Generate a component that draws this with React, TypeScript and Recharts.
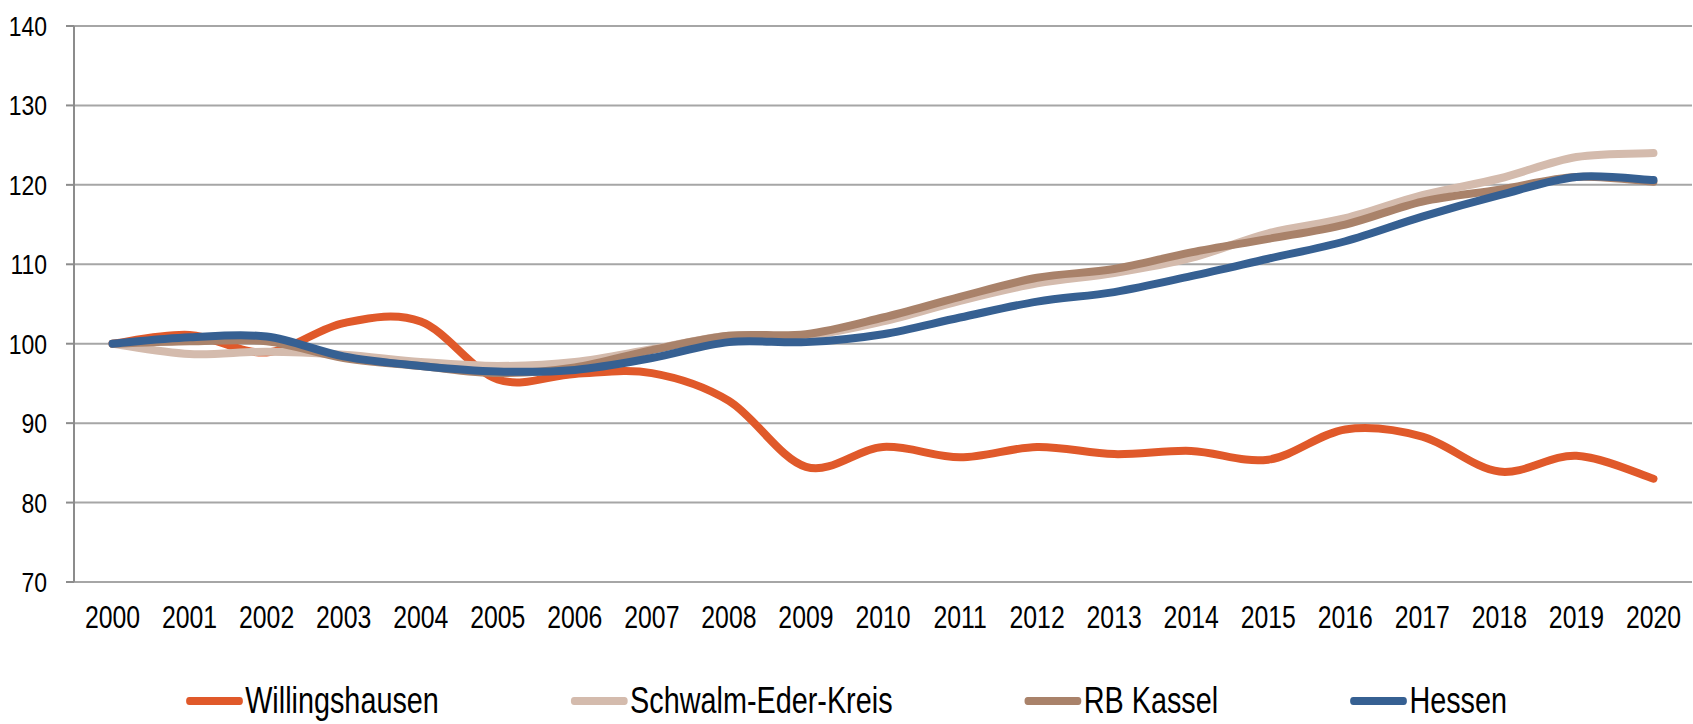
import { CartesianGrid, Line, LineChart, XAxis, YAxis } from "recharts";

const years = [
  2000, 2001, 2002, 2003, 2004, 2005, 2006, 2007, 2008, 2009, 2010, 2011, 2012,
  2013, 2014, 2015, 2016, 2017, 2018, 2019, 2020,
];

const willingshausen = [
  100, 101.1, 98.9, 102.6, 102.8, 95.5, 96.2, 96.3, 92.8, 84.5, 87.0, 85.7,
  87.0, 86.1, 86.5, 85.4, 89.2, 88.3, 83.9, 85.9, 83.0,
];
const schwalmEder = [
  100, 98.7, 99.0, 98.6, 97.7, 97.2, 97.7, 99.3, 101.0, 101.0, 102.8, 105.4,
  107.6, 108.9, 110.8, 113.9, 115.8, 118.7, 120.8, 123.5, 124.0,
];
const rbKassel = [
  100, 100.3, 100.3, 98.2, 97.2, 96.3, 97.0, 99.2, 101.0, 101.2, 103.3, 105.9,
  108.3, 109.4, 111.5, 113.2, 115.0, 117.9, 119.4, 121.0, 120.4,
];
const hessen = [
  100, 100.8, 100.9, 98.4, 97.2, 96.5, 96.7, 98.2, 100.2, 100.2, 101.2, 103.3,
  105.3, 106.5, 108.5, 110.7, 112.9, 116.0, 118.7, 121.0, 120.6,
];

const yTicks = [70, 80, 90, 100, 110, 120, 130, 140];

const seriesNames = ["Willingshausen", "Schwalm-Eder-Kreis", "RB Kassel", "Hessen"];
const seriesColors = ["#E0592A", "#D4BBAD", "#A9826A", "#366092"];
const seriesKeys = ["w", "s", "r", "h"];

const data = years.map((year, i) => ({
  year,
  w: willingshausen[i],
  s: schwalmEder[i],
  r: rbKassel[i],
  h: hessen[i],
}));

// tick marks sit between the years, like the spreadsheet axis
const boundaryTicks = [...years.map((y) => y - 0.5), years[years.length - 1] + 0.5];

const FONT = '"Liberation Sans", Arial, sans-serif';
const AXIS = "#8c8c8c";
// no narrow font installed, so squeeze the regular one
const NARROW = 0.8;

// Excel-style smoothing (Catmull-Rom through every point)
function excelSmooth(ctx: any) {
  let pts: number[][] = [];
  return {
    areaStart() {},
    areaEnd() {},
    lineStart() {
      pts = [];
    },
    point(x: number, y: number) {
      pts.push([+x, +y]);
    },
    lineEnd() {
      if (!pts.length) return;
      ctx.moveTo(pts[0][0], pts[0][1]);
      for (let i = 0; i < pts.length - 1; i++) {
        const p0 = pts[i - 1] || pts[i];
        const p1 = pts[i];
        const p2 = pts[i + 1];
        const p3 = pts[i + 2] || p2;
        ctx.bezierCurveTo(
          p1[0] + (p2[0] - p0[0]) / 6,
          p1[1] + (p2[1] - p0[1]) / 6,
          p2[0] - (p3[0] - p1[0]) / 6,
          p2[1] - (p3[1] - p1[1]) / 6,
          p2[0],
          p2[1]
        );
      }
    },
  };
}

function YearTick({ x, y, payload }: any) {
  return (
    <text
      transform={`translate(${x},${y}) scale(${NARROW},1)`}
      textAnchor="middle"
      dy="0.71em"
      fill="#000"
      fontSize={31}
      fontFamily={FONT}
    >
      {payload.value}
    </text>
  );
}

function ValueTick({ x, y, payload }: any) {
  return (
    <text
      transform={`translate(${x},${y}) scale(0.82,1)`}
      textAnchor="end"
      dy="0.355em"
      fill="#000"
      fontSize={28}
      fontFamily={FONT}
    >
      {payload.value}
    </text>
  );
}

function ChartLegend() {
  return (
    <div
      style={{
        position: "absolute",
        top: 683,
        left: 0,
        width: 1693,
        display: "flex",
        justifyContent: "center",
        gap: 165,
        fontFamily: FONT,
        fontSize: 36,
        lineHeight: "36px",
        color: "#000",
        transform: `scaleX(${NARROW})`,
        transformOrigin: "50% 50%",
      }}
    >
      {seriesNames.map((name, i) => (
        <div key={name} style={{ display: "flex", alignItems: "center" }}>
          <span
            style={{
              display: "inline-block",
              width: 71,
              height: 8,
              borderRadius: 4,
              background: seriesColors[i],
              marginRight: 3,
            }}
          />
          <span style={{ whiteSpace: "nowrap" }}>{name}</span>
        </div>
      ))}
    </div>
  );
}

export default function App() {
  return (
    <div
      style={{
        position: "absolute",
        left: 0,
        top: 0,
        width: 1693,
        height: 724,
        background: "#fff",
        overflow: "hidden",
      }}
    >
      <LineChart
        width={1693}
        height={724}
        data={data}
        margin={{ top: 26, right: 1, left: 0, bottom: 102 }}
      >
        <CartesianGrid
          xAxisId="years"
          vertical={false}
          stroke="#a6a6a6"
          strokeWidth={2}
        />
        <XAxis
          xAxisId="marks"
          dataKey="year"
          type="number"
          domain={[1999.5, 2020.5]}
          ticks={boundaryTicks}
          interval={0}
          allowDataOverflow
          height={0}
          tickSize={8}
          tickFormatter={() => ""}
          tickLine={{ stroke: AXIS, strokeWidth: 2 }}
          axisLine={{ stroke: AXIS, strokeWidth: 2 }}
        />
        <XAxis
          xAxisId="years"
          dataKey="year"
          type="number"
          domain={[1999.5, 2020.5]}
          ticks={years}
          interval={0}
          allowDataOverflow
          height={40}
          axisLine={false}
          tickLine={false}
          tickSize={0}
          tickMargin={24}
          tick={<YearTick />}
        />
        <YAxis
          type="number"
          domain={[70, 140]}
          ticks={yTicks}
          interval={0}
          width={74}
          tickSize={8}
          tickMargin={19}
          tickLine={{ stroke: AXIS, strokeWidth: 2 }}
          axisLine={{ stroke: AXIS, strokeWidth: 2 }}
          tick={<ValueTick />}
        />
        {seriesKeys.map((key, i) => (
          <Line
            key={key}
            xAxisId="years"
            dataKey={key}
            name={seriesNames[i]}
            type={excelSmooth as any}
            stroke={seriesColors[i]}
            strokeWidth={8}
            strokeLinecap="round"
            strokeLinejoin="round"
            dot={false}
            activeDot={false}
            isAnimationActive={false}
          />
        ))}
      </LineChart>
      <ChartLegend />
    </div>
  );
}
